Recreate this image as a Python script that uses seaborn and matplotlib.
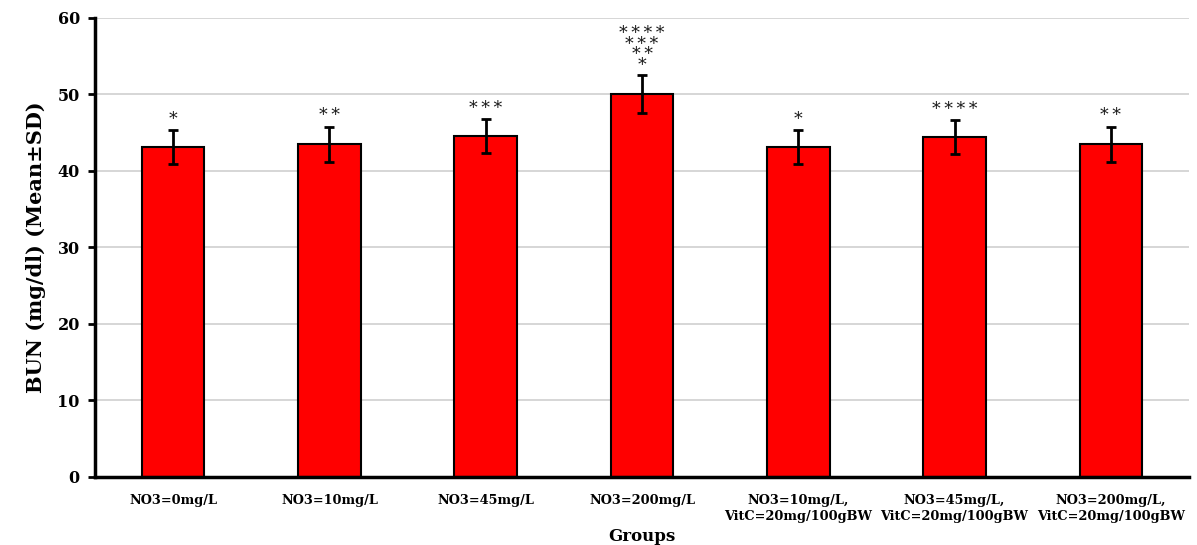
import matplotlib
matplotlib.use("Agg")
import matplotlib.pyplot as plt
import seaborn as sns
import pandas as pd
import numpy as np

groups = ["NO3=0mg/L", "NO3=10mg/L", "NO3=45mg/L", "NO3=200mg/L",
          "NO3=10mg/L,\nVitC=20mg/100gBW", "NO3=45mg/L,\nVitC=20mg/100gBW",
          "NO3=200mg/L,\nVitC=20mg/100gBW"]
means = [43.1, 43.5, 44.6, 50.1, 43.1, 44.4, 43.5]
sds = [2.2, 2.3, 2.2, 2.5, 2.2, 2.2, 2.3]
stars = ["*", "**", "***", "****\n***\n**\n*", "*", "****", "**"]
yticks = [0, 10, 20, 30, 40, 50, 60]

sns.set_theme(style="white")
plt.rcParams['font.family'] = ['DejaVu Serif']
plt.rcParams['text.color'] = 'black'
plt.rcParams['axes.labelcolor'] = 'black'
plt.rcParams['xtick.color'] = 'black'
plt.rcParams['ytick.color'] = 'black'

df = pd.DataFrame({"Groups": groups, "BUN": means})

fig = plt.figure(figsize=(11.97, 5.45), dpi=100)
ax = fig.add_axes([0.0794, 0.1248, 0.9139, 0.8422])

sns.barplot(data=df, x="Groups", y="BUN", color="#ff0000", width=0.4,
            edgecolor="black", linewidth=1.5, errorbar=None, ax=ax, saturation=1)
xs = np.arange(len(groups))
ax.errorbar(xs, means, yerr=sds, fmt="none", ecolor="black", elinewidth=2,
            capsize=3.5, capthick=2, zorder=5)
for x, m, s, t in zip(xs, means, sds, stars):
    t2 = "\n".join("\u2009".join(line) for line in t.split("\n"))
    multi = "\n" in t
    ax.text(x, m + s + (0.05 if multi else 0.3), t2, ha="center", va="bottom",
            fontsize=12.5, linespacing=0.52, color="#1a1a1a")

ax.set_ylim(0, 60)
ax.set_xlim(-0.5, 6.5)
ax.set_yticks(yticks)
ax.yaxis.grid(True, color="#d0d0d0", linewidth=1.2)
ax.set_axisbelow(True)
for sp in ["top", "right"]:
    ax.spines[sp].set_visible(False)
ax.spines["left"].set_linewidth(2.5)
ax.spines["bottom"].set_linewidth(2.5)
ax.spines["left"].set_color("black")
ax.spines["bottom"].set_color("black")
ax.tick_params(axis="y", which="major", left=True, length=5, width=2,
               color="black", labelsize=11.5, pad=6)
ax.tick_params(axis="x", bottom=False, labelsize=9.3, pad=6)
for lab in ax.get_yticklabels():
    lab.set_fontweight("bold")
for lab in ax.get_xticklabels():
    lab.set_fontweight("bold")
    lab.set_linespacing(1.3)
ax.set_xlabel("Groups", fontsize=12, fontweight="bold", labelpad=4)
ax.set_ylabel("BUN (mg/dl) (Mean±SD)", fontsize=15, fontweight="bold", labelpad=8)

fig.savefig("out.png", dpi=100)
